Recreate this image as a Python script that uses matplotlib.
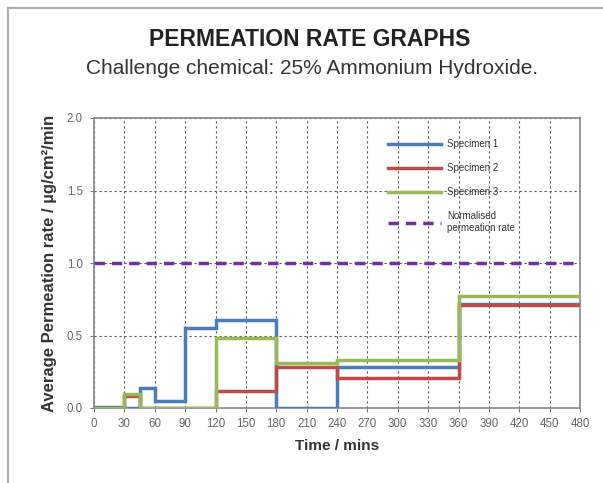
import matplotlib
matplotlib.use("Agg")
import matplotlib.pyplot as plt
from matplotlib.lines import Line2D

plt.rcParams['font.family'] = ['Liberation Sans', 'DejaVu Sans']

# Interval edges (minutes) and average permeation rate in each interval
time_edges = [0, 30, 45, 60, 90, 120, 180, 240, 360, 480]
specimen_1 = [0.01, 0.0, 0.14, 0.05, 0.55, 0.61, 0.0, 0.28, 0.72]
specimen_2 = [0.0, 0.08, 0.0, 0.0, 0.0, 0.12, 0.28, 0.21, 0.71]
specimen_3 = [0.0, 0.10, 0.0, 0.0, 0.0, 0.48, 0.31, 0.33, 0.77]
normalised_rate = 1.0

x_ticks = list(range(0, 481, 30))
y_ticks = [0.0, 0.5, 1.0, 1.5, 2.0]

series = [
    ("Specimen 1", specimen_1, "#4A7EBB"),
    ("Specimen 2", specimen_2, "#BE4B48"),
    ("Specimen 3", specimen_3, "#98B954"),
]

fig = plt.figure(figsize=(6.03, 4.83), dpi=100)

# outer frame (top and left edges)
fig.add_artist(Line2D([8/603, 1.0], [1 - 8/483, 1 - 8/483], transform=fig.transFigure,
                      color="#b0b0b0", lw=1.6))
fig.add_artist(Line2D([8/603, 8/603], [0.0, 1 - 8/483], transform=fig.transFigure,
                      color="#b0b0b0", lw=1.6))

ax = fig.add_axes([94/603, 1 - 408/483, (580 - 94)/603, (408 - 118)/483])

for label, vals, color in series:
    ax.stairs(vals, time_edges, color=color, lw=2.5, label=label, baseline=None, zorder=3)

ax.axhline(normalised_rate, color="#7030A0", lw=2.5, ls=(0, (3, 2)),
           label="Normalised\npermeation rate", zorder=4)

ax.set_xlim(0, 480)
ax.set_ylim(0, 2.0)
ax.set_xticks(x_ticks)
ax.set_yticks(y_ticks)
ax.set_yticklabels([f"{v:.1f}" for v in y_ticks])
ax.tick_params(labelsize=8.3, colors="#777777", length=3, width=0.8, labelcolor="#666666")
ax.tick_params(axis="x", pad=4)
ax.tick_params(axis="y", pad=5)
ax.grid(True, color="#555555", ls=(0, (2, 2.5)), lw=0.8)
ax.set_axisbelow(True)
for s in ax.spines.values():
    s.set_color("#888888")
    s.set_linewidth(1.2)

ax.set_xlabel("Time / mins", fontsize=11, fontweight="bold", color="#333333", labelpad=7)
ax.set_ylabel("Average Permeation rate / µg/cm²/min", fontsize=12, fontweight="bold",
              color="#333333", labelpad=7)

leg = ax.legend(loc="upper left", bbox_to_anchor=((388 - 94)/486, 1 - (139 - 118)/290),
                borderaxespad=0, borderpad=0, frameon=False,
                fontsize=7, handlelength=5.5, labelspacing=1.45, handletextpad=0.6)
for t in leg.get_texts():
    t.set_color("#333333")

fig.text(310/603, 1 - 40/483, "PERMEATION RATE GRAPHS", ha="center", va="center",
         fontsize=16.5, fontweight="bold", color="#222222")
fig.text(312/603, 1 - 68/483, "Challenge chemical: 25% Ammonium Hydroxide.", ha="center",
         va="center", fontsize=15, color="#333333")

fig.savefig("out.png", dpi=100)
